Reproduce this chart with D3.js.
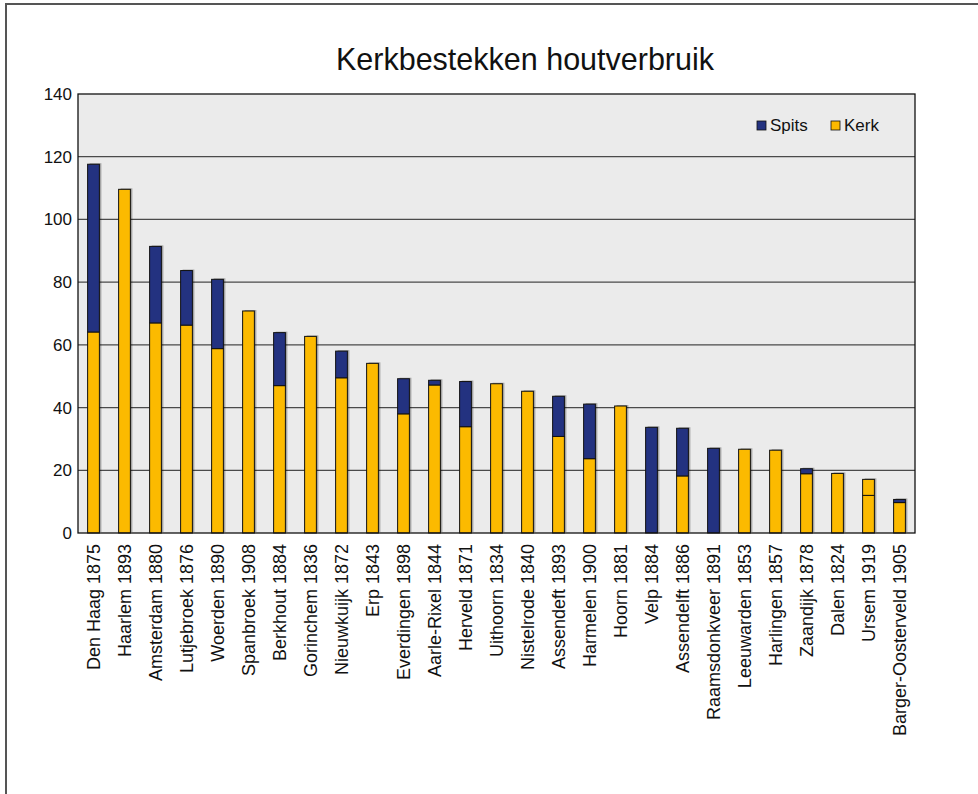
<!DOCTYPE html>
<html>
<head>
<meta charset="utf-8">
<script src="https://cdn.jsdelivr.net/npm/d3@7"></script>
<style>
  html, body { margin: 0; padding: 0; background: #fff; }
  svg { display: block; font-family: "Liberation Sans", Arial, sans-serif; }
</style>
</head>
<body>
<svg id="chart" width="978" height="794"></svg>
<script>
const categories = [
  "Den Haag 1875", "Haarlem 1893", "Amsterdam 1880", "Lutjebroek 1876", "Woerden 1890",
  "Spanbroek 1908", "Berkhout 1884", "Gorinchem 1836", "Nieuwkuijk 1872", "Erp 1843",
  "Everdingen 1898", "Aarle-Rixel 1844", "Herveld 1871", "Uithoorn 1834", "Nistelrode 1840",
  "Assendeft 1893", "Harmelen 1900", "Hoorn 1881", "Velp 1884", "Assendelft 1886",
  "Raamsdonkveer 1891", "Leeuwarden 1853", "Harlingen 1857", "Zaandijk 1878", "Dalen 1824",
  "Ursem 1919", "Barger-Oosterveld 1905"
];
const kerk = [64.1, 109.6, 67.0, 66.3, 58.8, 70.8, 47.0, 62.7, 49.5, 54.1,
  38.0, 47.2, 33.9, 47.6, 45.2, 30.8, 23.7, 40.5, 0, 18.2,
  0, 26.7, 26.4, 18.9, 19.0, 12.0, 9.7];
// second kerk segment (only Ursem has one)
const kerkExtra = [0, 0, 0, 0, 0, 0, 0, 0, 0, 0,
  0, 0, 0, 0, 0, 0, 0, 0, 0, 0,
  0, 0, 0, 0, 0, 5.1, 0];
const spits = [53.5, 0, 24.4, 17.4, 22.1, 0, 16.9, 0, 8.5, 0,
  11.2, 1.5, 14.4, 0, 0, 12.8, 17.4, 0, 33.7, 15.2,
  27.0, 0, 0, 1.6, 0, 0, 1.0];
const yTicks = [0, 20, 40, 60, 80, 100, 120, 140];
const legendItems = ["Spits", "Kerk"];

const NAVY = "#233280";
const GOLD = "#FCBA00";
const colors = { kerk: GOLD, kerkExtra: GOLD, spits: NAVY, Spits: NAVY, Kerk: GOLD };

const svg = d3.select("#chart");

// outer frame (runs off the right / bottom edge)
svg.append("rect")
  .attr("x", 6).attr("y", 4)
  .attr("width", 1000).attr("height", 820)
  .attr("fill", "#fff")
  .attr("stroke", "#555")
  .attr("stroke-width", 2);

const plotL = 78, plotR = 915, plotT = 94, plotB = 533;

const x = d3.scaleBand()
  .domain(categories)
  .range([plotL, plotR])
  .paddingInner(0.62)
  .paddingOuter(0.31);

const y = d3.scaleLinear()
  .domain([0, 140])
  .range([plotB, plotT]);

// plot background
svg.append("rect")
  .attr("x", plotL).attr("y", plotT)
  .attr("width", plotR - plotL).attr("height", plotB - plotT)
  .attr("fill", "#EBEBEB");

// grid lines
svg.append("g")
  .selectAll("line")
  .data(yTicks.filter(d => d > 0 && d < 140))
  .join("line")
  .attr("x1", plotL).attr("x2", plotR)
  .attr("y1", d => y(d)).attr("y2", d => y(d))
  .attr("stroke", "#4a4a4a")
  .attr("stroke-width", 1.3);

// stacked bars
const table = categories.map((c, i) => ({
  cat: c, kerk: kerk[i], kerkExtra: kerkExtra[i], spits: spits[i]
}));
const series = d3.stack().keys(["kerk", "kerkExtra", "spits"])(table);

const barsG = svg.append("g");
series.forEach(s => {
  const segs = s.filter(d => d[1] - d[0] > 0);
  // soft shadow
  barsG.append("g")
    .selectAll("rect")
    .data(segs)
    .join("rect")
    .attr("x", d => x(d.data.cat) + 2)
    .attr("y", d => y(d[1]) - 1)
    .attr("width", x.bandwidth())
    .attr("height", d => y(d[0]) - y(d[1]))
    .attr("fill", "#000")
    .attr("fill-opacity", 0.3);
});
series.forEach(s => {
  barsG.append("g")
    .selectAll("rect")
    .data(s.filter(d => d[1] - d[0] > 0))
    .join("rect")
    .attr("x", d => x(d.data.cat))
    .attr("y", d => y(d[1]))
    .attr("width", x.bandwidth())
    .attr("height", d => y(d[0]) - y(d[1]))
    .attr("fill", colors[s.key])
    .attr("stroke", "#111")
    .attr("stroke-width", 1);
});

// plot border
svg.append("rect")
  .attr("x", plotL).attr("y", plotT)
  .attr("width", plotR - plotL).attr("height", plotB - plotT)
  .attr("fill", "none")
  .attr("stroke", "#111")
  .attr("stroke-width", 1.3);

// y axis labels
svg.append("g")
  .selectAll("text")
  .data(yTicks)
  .join("text")
  .attr("x", plotL - 6)
  .attr("y", d => y(d))
  .attr("dy", "0.35em")
  .attr("text-anchor", "end")
  .attr("font-size", 17)
  .attr("fill", "#111")
  .text(d => d);

// category labels
svg.append("g")
  .selectAll("text")
  .data(categories)
  .join("text")
  .attr("transform", d => `translate(${x(d) + x.bandwidth() / 2 + 6},${plotB + 11}) rotate(-90)`)
  .attr("text-anchor", "end")
  .attr("font-size", 18)
  .attr("fill", "#111")
  .text(d => d);

// title
svg.append("text")
  .attr("x", 525)
  .attr("y", 70)
  .attr("text-anchor", "middle")
  .attr("font-size", 30.5)
  .attr("fill", "#111")
  .text("Kerkbestekken houtverbruik");

// legend
const legendX = [757, 831];
legendItems.forEach((name, i) => {
  svg.append("rect")
    .attr("x", legendX[i]).attr("y", 121)
    .attr("width", 9).attr("height", 9)
    .attr("fill", colors[name])
    .attr("stroke", "#111")
    .attr("stroke-width", 0.8);
  svg.append("text")
    .attr("x", legendX[i] + 13)
    .attr("y", 131)
    .attr("font-size", 17)
    .attr("fill", "#111")
    .text(name);
});
</script>
</body>
</html>
